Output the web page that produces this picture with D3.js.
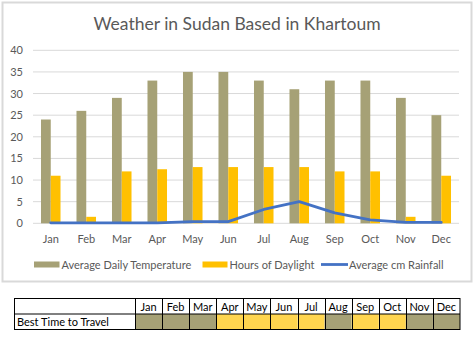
<!DOCTYPE html>
<html><head><meta charset="utf-8">
<script src="https://cdn.jsdelivr.net/npm/d3@7"></script>
<style>
html,body{margin:0;padding:0;background:#fff;}
svg{display:block;}
text{font-family:Lato,"Open Sans",sans-serif;}
</style></head>
<body>
<svg id="chart" width="474" height="342"></svg>
<script>
const months = ["Jan","Feb","Mar","Apr","May","Jun","Jul","Aug","Sep","Oct","Nov","Dec"];
const temperature = [24,26,29,33,35,35,33,31,33,33,29,25];
const daylight = [11,1.5,12,12.5,13,13,13,13,12,12,1.5,11];
const rainfall = [0.1,0.1,0.1,0.1,0.4,0.4,3.2,5,2.4,0.8,0.2,0.2];
const yTicks = [0,5,10,15,20,25,30,35,40];
const seriesNames = ["Average Daily Temperature","Hours of Daylight","Average cm Rainfall"];
const bestTime = ["no","no","no","yes","yes","yes","yes","no","yes","yes","no","no"];
const tableRowLabel = "Best Time to Travel";
const title = "Weather in Sudan Based in Khartoum";

const C_TEMP = "#a6a176", C_DAY = "#ffc000", C_RAIN = "#4472c4", C_YES = "#ffd54f";
const svg = d3.select("#chart");

// chart frame
svg.append("rect").attr("x",2.5).attr("y",2.5).attr("width",469).attr("height",279)
  .attr("fill","#fff").attr("stroke","#d9d9d9").attr("stroke-width",2);

svg.append("text").attr("x",237).attr("y",30).attr("text-anchor","middle")
  .attr("font-size",17.5).attr("fill","#595959").text(title);

const x = d3.scaleBand().domain(months).range([33,459]).padding(0);
const y = d3.scaleLinear().domain([0,40]).range([223.3,50.3]);
const groupW = x.bandwidth()*0.55;
const x1 = d3.scaleBand().domain(["t","d"]).range([0,groupW]);

// gridlines
svg.append("g").selectAll("line").data(yTicks).join("line")
  .attr("x1",33).attr("x2",459).attr("y1",d=>y(d)).attr("y2",d=>y(d))
  .attr("stroke",d=>d===0?"#d9d9d9":"#d9d9d9").attr("stroke-width",1);

// y axis
const yAxis = d3.axisLeft(y).tickValues(yTicks).tickSize(0).tickPadding(0);
const gy = svg.append("g").attr("transform","translate(23,0)").call(yAxis);
gy.select(".domain").remove();
gy.selectAll("text").attr("font-size",11).attr("fill","#595959").style("font-family","Lato,sans-serif");

// x axis
const xAxis = d3.axisBottom(x).tickSize(0).tickPadding(0);
const gx = svg.append("g").attr("transform","translate(0,235)").call(xAxis);
gx.select(".domain").remove();
gx.selectAll("text").attr("font-size",11).attr("fill","#595959").style("font-family","Lato,sans-serif");

const groupX = m => x(m) + (x.bandwidth()-groupW)/2;
svg.append("g").selectAll("rect").data(months).join("rect")
  .attr("x",(m)=>groupX(m)+x1("t")).attr("width",x1.bandwidth())
  .attr("y",(m,i)=>y(temperature[i])).attr("height",(m,i)=>y(0)-y(temperature[i]))
  .attr("fill",C_TEMP);
svg.append("g").selectAll("rect").data(months).join("rect")
  .attr("x",(m)=>groupX(m)+x1("d")).attr("width",x1.bandwidth())
  .attr("y",(m,i)=>y(daylight[i])).attr("height",(m,i)=>y(0)-y(daylight[i]))
  .attr("fill",C_DAY);

const line = d3.line().x((d,i)=>x(months[i])+x.bandwidth()/2).y(d=>y(d));
svg.append("path").datum(rainfall).attr("d",line).attr("fill","none")
  .attr("stroke",C_RAIN).attr("stroke-width",2.8).attr("stroke-linejoin","round").attr("stroke-linecap","round");

// legend
const lg = svg.append("g").attr("font-size",11).attr("fill","#595959");
lg.append("rect").attr("x",34).attr("y",261.5).attr("width",25.5).attr("height",6).attr("fill",C_TEMP);
lg.append("text").attr("x",61.5).attr("y",268.5).text(seriesNames[0]);
lg.append("rect").attr("x",202.5).attr("y",261.5).attr("width",25).attr("height",6).attr("fill",C_DAY);
lg.append("text").attr("x",229.5).attr("y",268.5).text(seriesNames[1]);
lg.append("line").attr("x1",321).attr("x2",348).attr("y1",264.5).attr("y2",264.5).attr("stroke",C_RAIN).attr("stroke-width",2.8);
lg.append("text").attr("x",349).attr("y",268.5).text(seriesNames[2]);

// table
const tx = d3.scaleBand().domain(months).range([135,460]);
const rowTop = 298.5, rowMid = 314, rowBot = 329.5;
const tg = svg.append("g");
tg.selectAll("rect.cell").data(months).join("rect").attr("class","cell")
  .attr("x",m=>tx(m)).attr("y",rowMid).attr("width",tx.bandwidth()).attr("height",rowBot-rowMid)
  .attr("fill",(m,i)=>bestTime[i]==="yes"?C_YES:C_TEMP);
tg.append("rect").attr("x",14.5).attr("y",rowTop).attr("width",445.5).attr("height",rowBot-rowTop)
  .attr("fill","none").attr("stroke","#000").attr("stroke-width",1);
tg.append("line").attr("x1",14.5).attr("x2",460).attr("y1",rowMid).attr("y2",rowMid).attr("stroke","#000");
tg.selectAll("line.col").data(months).join("line").attr("class","col")
  .attr("x1",m=>Math.round(tx(m))+0.5).attr("x2",m=>Math.round(tx(m))+0.5).attr("y1",rowTop).attr("y2",rowBot).attr("stroke","#000");
tg.selectAll("text.h").data(months).join("text").attr("class","h")
  .attr("x",m=>tx(m)+tx.bandwidth()/2).attr("y",310.5).attr("text-anchor","middle")
  .attr("font-size",11).attr("fill","#000").text(m=>m);
tg.append("text").attr("x",17).attr("y",326).attr("font-size",11).attr("fill","#000").text(tableRowLabel);
</script>
</body></html>
